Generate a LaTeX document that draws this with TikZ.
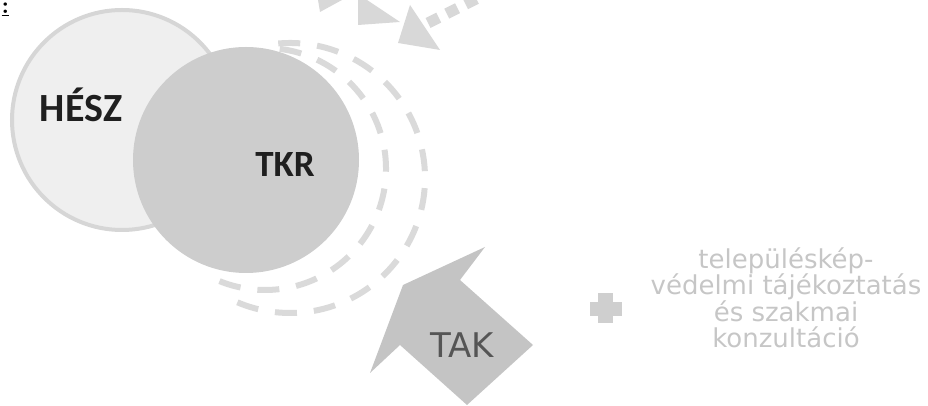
\documentclass[tikz,border=0pt]{standalone}
\usepackage{fontspec}
\newfontfamily\labelfont{Carlito}
\newfontfamily\infofont{DejaVu Sans}
\definecolor{heszgray}{HTML}{EFEFEF}
\definecolor{heszedge}{HTML}{D6D6D6}
\definecolor{tkrgray}{HTML}{CDCDCD}
\definecolor{orbitgray}{HTML}{DADADA}
\definecolor{tipgray}{HTML}{D8D8D8}
\definecolor{takgray}{HTML}{C4C4C4}
\definecolor{takdark}{HTML}{555555}
\definecolor{infogray}{HTML}{C6C6C6}
\definecolor{plusgray}{HTML}{CFCFCF}
\begin{document}
\begin{tikzpicture}[x=1pt,y=1pt,
  orbit/.style={draw=orbitgray, line width=6pt, dash pattern=on 22pt off 17pt},
  bigcircle/.style={circle, inner sep=0pt, minimum size=#1},
  labeltext/.style={font=\labelfont\bfseries\fontsize{40}{40}\selectfont, text=black!88}]
\useasboundingbox (0,0) rectangle (928,406);
\clip (0,0) rectangle (928,406);
\node[anchor=north west, inner sep=0pt, font=\bfseries\fontsize{24}{24}\selectfont] (colon) at (1.5,403) {\underline{:}};
% circles
\node[bigcircle=220pt, fill=heszgray, draw=heszedge, line width=4pt] (hesz) at (122,286) {};
\node[bigcircle=226pt, fill=tkrgray] (tkr) at (246,246) {};
\node[labeltext] (hesz label) at (81,301) {HÉSZ};
\node[labeltext, font=\labelfont\bfseries\fontsize{37}{37}\selectfont] (tkr label) at (285,241) {TKR};
% orbit round TKR
\coordinate (inner c) at (265,237);
\coordinate (outer c) at (290,228);
\draw[orbit] (inner c) ++(83:121) arc (83:-120:121);
\draw[orbit] (outer c) ++(95:135) arc (95:-115:135);
% arrow tips at the top
\fill[tipgray] (317,412) -- (320,394) -- (353,412) -- cycle;
\fill[tipgray] (358,412) -- (358,381) -- (400,384) -- cycle;
\fill[tipgray] (410,401) -- (398,363) -- (440,356) -- cycle;
\draw[tipgray, line width=11pt, dash pattern=on 12pt off 9pt] (428,383) -- (490,414);
% TAK arrow
\fill[takgray] (485,159) -- (403,121) -- (370,33) -- (400,61) -- (467,1)
  -- (533,61) -- (460,126) -- cycle;
\node[font=\infofont\fontsize{34}{34}\selectfont, text=takdark] (tak) at (462,61) {TAK};
% info
\fill[plusgray] (598,83) rectangle (613,113);
\fill[plusgray] (590,90) rectangle (622,104);
\node[align=center, font=\infofont\fontsize{26}{26.5}\selectfont, text=infogray] (info) at (786,108)
  {településkép-\\védelmi tájékoztatás\\és szakmai\\konzultáció};
\end{tikzpicture}
\end{document}
